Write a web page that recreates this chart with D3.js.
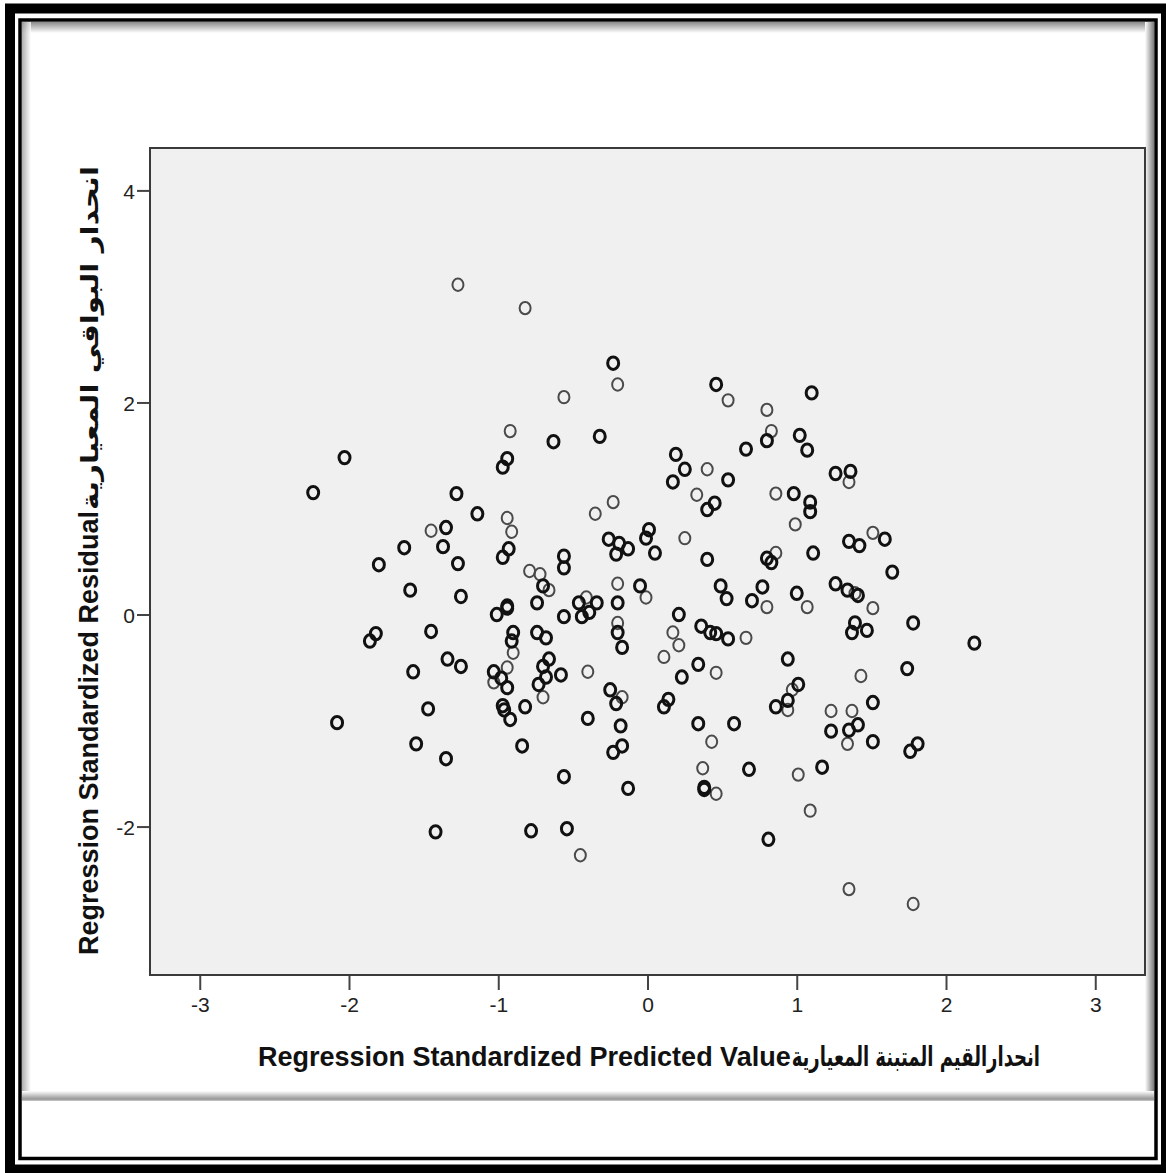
<!DOCTYPE html>
<html>
<head>
<meta charset="utf-8">
<script src="https://cdn.jsdelivr.net/npm/d3@7"></script>
<style>
  html, body { margin: 0; padding: 0; background: #fff; }
  svg { display: block; }
</style>
</head>
<body>
<svg id="chart" width="1166" height="1173"></svg>
<script>
'use strict';

// data: [predicted, residual]
const darkPoints = [
  [-0.23, 2.37], [-0.63, 1.63], [-0.32, 1.68], [-0.94, 1.47], [-0.97, 1.39],
  [-2.03, 1.48], [-2.24, 1.15], [-1.28, 1.14], [-1.14, 0.95], [-1.35, 0.82],
  [-1.63, 0.63], [-1.37, 0.64], [-0.93, 0.62], [-0.97, 0.54], [-1.80, 0.47],
  [-1.27, 0.48], [-0.56, 0.55], [-0.56, 0.44], [-0.26, 0.71], [-0.19, 0.67],
  [-0.13, 0.62], [-0.21, 0.57], [-1.59, 0.23], [-1.25, 0.17], [-0.70, 0.27],
  [-0.05, 0.27], [-0.74, 0.11], [-0.94, 0.08], [-0.46, 0.11], [-0.34, 0.11],
  [-0.20, 0.11],
  [0.46, 2.17], [1.10, 2.09], [0.80, 1.64], [1.02, 1.69], [1.07, 1.55],
  [0.66, 1.56], [0.19, 1.51], [0.25, 1.37], [0.17, 1.25], [0.54, 1.27],
  [0.45, 1.05], [0.40, 0.99], [0.98, 1.14], [1.09, 1.06], [1.09, 0.97],
  [1.26, 1.33], [1.36, 1.35], [0.01, 0.80], [-0.01, 0.72], [0.05, 0.58],
  [0.40, 0.52], [0.80, 0.53], [0.83, 0.49], [1.11, 0.58], [1.35, 0.69],
  [1.42, 0.65], [1.59, 0.71], [1.64, 0.40], [0.49, 0.27], [0.53, 0.15],
  [0.70, 0.13], [0.77, 0.26], [1.00, 0.20], [1.26, 0.29], [1.34, 0.23],
  [1.41, 0.18],
  [-1.82, -0.18], [-1.86, -0.25], [-1.45, -0.16], [-1.57, -0.54], [-1.34, -0.42],
  [-1.25, -0.49], [-2.08, -1.02], [-1.47, -0.89], [-1.55, -1.22], [-1.35, -1.36],
  [-1.42, -2.05], [-1.01, 0.00], [-0.94, 0.06], [-0.56, -0.02], [-0.44, -0.02],
  [-0.39, 0.02], [-0.20, -0.17], [-0.17, -0.31], [-0.90, -0.17], [-0.91, -0.25],
  [-0.74, -0.17], [-0.68, -0.22], [-1.03, -0.54], [-0.98, -0.60], [-0.94, -0.69],
  [-0.97, -0.86], [-0.96, -0.90], [-0.92, -0.99], [-0.82, -0.87], [-0.84, -1.24],
  [-0.66, -0.42], [-0.70, -0.49], [-0.68, -0.59], [-0.73, -0.66], [-0.58, -0.57],
  [-0.40, -0.98], [-0.25, -0.71], [-0.21, -0.84], [-0.18, -1.05], [-0.17, -1.24],
  [-0.23, -1.30], [-0.56, -1.53], [-0.13, -1.64], [-0.78, -2.04], [-0.54, -2.02],
  [1.78, -0.08], [2.19, -0.27], [1.39, -0.08], [1.37, -0.17], [1.47, -0.15],
  [0.21, 0.00], [0.36, -0.11], [0.42, -0.17], [0.46, -0.18], [0.54, -0.23],
  [0.34, -0.47], [0.23, -0.59], [0.94, -0.42], [0.14, -0.80], [0.11, -0.87],
  [1.01, -0.66], [0.94, -0.81], [0.86, -0.87], [0.34, -1.03], [0.58, -1.03],
  [0.38, -1.63], [0.38, -1.65], [0.68, -1.46], [1.17, -1.44], [0.81, -2.12],
  [1.51, -0.83], [1.74, -0.51], [1.23, -1.10], [1.35, -1.09], [1.41, -1.04],
  [1.51, -1.20], [1.76, -1.29], [1.81, -1.22]
];

const lightPoints = [
  [-1.27, 3.11], [-0.82, 2.89], [-0.20, 2.17], [-0.56, 2.05], [-0.92, 1.73],
  [-0.94, 0.91], [-0.91, 0.78], [-0.35, 0.95], [-0.23, 1.06], [-1.45, 0.79],
  [-0.79, 0.41], [-0.72, 0.38], [-0.66, 0.23], [-0.20, 0.29], [-0.01, 0.16],
  [-0.41, 0.16],
  [0.54, 2.02], [0.80, 1.93], [0.83, 1.73], [0.40, 1.37], [0.33, 1.13],
  [0.86, 1.14], [0.99, 0.85], [1.35, 1.25], [0.25, 0.72], [0.86, 0.58],
  [1.51, 0.77], [0.80, 0.07], [1.07, 0.07], [1.51, 0.06], [1.39, 0.20],
  [-0.20, -0.08], [-0.90, -0.36], [-0.94, -0.50], [-1.03, -0.64], [-0.70, -0.78],
  [-0.40, -0.54], [-0.17, -0.78], [-0.45, -2.27],
  [0.17, -0.17], [0.21, -0.29], [0.11, -0.40], [0.66, -0.22], [0.46, -0.55],
  [0.97, -0.71], [0.94, -0.90], [0.43, -1.20], [0.37, -1.45], [0.46, -1.69],
  [1.01, -1.51], [1.09, -1.85], [1.43, -0.58], [1.23, -0.91], [1.37, -0.91],
  [1.34, -1.22], [1.35, -2.59], [1.78, -2.73]
];

const xTicks = [-3, -2, -1, 0, 1, 2, 3];
const yTicks = [-2, 0, 2, 4];

const xTitleEn = 'Regression Standardized Predicted Value';
const xTitleAr = 'انحدارالقيم المتبنة المعيارية';
const yTitleEn = 'Regression Standardized Residual';
const yTitleAr = 'انحدار البواقي المعيارية';

const svg = d3.select('#chart');
const W = 1166, H = 1173;
const plot = {left: 150, top: 148, right: 1145, bottom: 975};

// gradients for the panel shadows
const defs = svg.append('defs');
const grad = (id, x1, y1, x2, y2, c1, c2) => {
  const g = defs.append('linearGradient').attr('id', id)
    .attr('x1', x1).attr('y1', y1).attr('x2', x2).attr('y2', y2);
  g.append('stop').attr('offset', '0%').attr('stop-color', c1);
  g.append('stop').attr('offset', '100%').attr('stop-color', c2);
};
grad('shTop', 0, 0, 0, 1, '#8a8a8a', '#ffffff');
grad('shLeft', 0, 0, 1, 0, '#9a9a9a', '#ffffff');
grad('shRight', 0, 0, 1, 0, '#ffffff', '#7a7a7a');
grad('shBottom', 0, 0, 0, 1, '#ffffff', '#8a8a8a');

svg.append('rect').attr('width', W).attr('height', H).attr('fill', '#fff');

// panel shadows
svg.append('rect').attr('x', 22).attr('y', 22).attr('width', 1132).attr('height', 11).attr('fill', 'url(#shTop)');
svg.append('rect').attr('x', 22).attr('y', 22).attr('width', 9).attr('height', 1076).attr('fill', 'url(#shLeft)').attr('opacity', 0.8);
svg.append('rect').attr('x', 1145).attr('y', 22).attr('width', 9).attr('height', 1078).attr('fill', 'url(#shRight)');
svg.append('rect').attr('x', 22).attr('y', 1091).attr('width', 1132).attr('height', 9).attr('fill', 'url(#shBottom)');
svg.append('line').attr('x1', 22).attr('x2', 1154).attr('y1', 1100).attr('y2', 1100)
  .attr('stroke', '#a8a8a8').attr('stroke-width', 1.5);

// frames
svg.append('rect').attr('x', 10).attr('y', 8.5).attr('width', 1156).attr('height', 1161)
  .attr('fill', 'none').attr('stroke', '#000').attr('stroke-width', 10);
svg.append('rect').attr('x', 20).attr('y', 20).attr('width', 1136).attr('height', 1138.5)
  .attr('fill', 'none').attr('stroke', '#000').attr('stroke-width', 3.5);

// scales
const x = d3.scaleLinear().domain([-10 / 3, 10 / 3]).range([plot.left, plot.right]);
const y = d3.scaleLinear().domain([-3.4, 4.4]).range([plot.bottom, plot.top]);

svg.append('rect')
  .attr('x', plot.left).attr('y', plot.top)
  .attr('width', plot.right - plot.left).attr('height', plot.bottom - plot.top)
  .attr('fill', '#f0f0f0').attr('stroke', '#3a3a3a').attr('stroke-width', 2);

// axes
const styleAxis = g => {
  g.select('.domain').remove();
  g.selectAll('.tick line').attr('stroke', '#444').attr('stroke-width', 2);
  g.selectAll('.tick text')
    .attr('fill', '#222')
    .style('font-family', '"Liberation Sans", Arial, sans-serif')
    .style('font-size', '21px');
};

svg.append('g')
  .attr('transform', `translate(0,${plot.bottom + 1})`)
  .call(d3.axisBottom(x).tickValues(xTicks).tickFormat(d => String(d)).tickSize(14).tickPadding(7))
  .call(styleAxis);

svg.append('g')
  .attr('transform', `translate(${plot.left - 1},0)`)
  .call(d3.axisLeft(y).tickValues(yTicks).tickFormat(d => String(d)).tickSize(12).tickPadding(2))
  .call(styleAxis)
  .selectAll('.tick text').attr('dy', '0.4em');

// points
const pts = svg.append('g');
pts.selectAll('ellipse.light')
  .data(lightPoints)
  .join('ellipse')
  .attr('class', 'light')
  .attr('cx', d => x(d[0])).attr('cy', d => y(d[1]))
  .attr('rx', 5.5).attr('ry', 6.2)
  .attr('fill', 'none').attr('stroke', '#4a4a4a').attr('stroke-width', 2);
pts.selectAll('ellipse.dark')
  .data(darkPoints)
  .join('ellipse')
  .attr('class', 'dark')
  .attr('cx', d => x(d[0])).attr('cy', d => y(d[1]))
  .attr('rx', 5.5).attr('ry', 6.2)
  .attr('fill', 'none').attr('stroke', '#111').attr('stroke-width', 3);

// titles
const enFont = '"Liberation Sans", Arial, sans-serif';
const arFont = '"DejaVu Sans", sans-serif';

const xEn = svg.append('text')
  .attr('x', 258).attr('y', 1066)
  .style('font-family', enFont).style('font-size', '27px').style('font-weight', 'bold')
  .attr('fill', '#111')
  .text(xTitleEn);
const xEnEnd = 258 + xEn.node().getComputedTextLength();
svg.append('text')
  .attr('x', xEnEnd + 1).attr('y', 1066)
  .attr('textLength', 1040 - xEnEnd - 1).attr('lengthAdjust', 'spacingAndGlyphs')
  .style('font-family', arFont).style('font-size', '27px').style('font-weight', 'bold')
  .attr('fill', '#111')
  .text(xTitleAr);

const yg = svg.append('g').attr('transform', 'translate(98,955) rotate(-90)');
const yEn = yg.append('text')
  .attr('x', 0).attr('y', 0)
  .style('font-family', enFont).style('font-size', '27px').style('font-weight', 'bold')
  .attr('fill', '#111')
  .text(yTitleEn);
const yEnEnd = yEn.node().getComputedTextLength();
yg.append('text')
  .attr('x', yEnEnd + 1).attr('y', 0)
  .attr('textLength', (955 - 166) - yEnEnd - 1).attr('lengthAdjust', 'spacingAndGlyphs')
  .style('font-family', arFont).style('font-size', '24px').style('font-weight', 'bold')
  .attr('fill', '#111')
  .text(yTitleAr);
</script>
</body>
</html>
